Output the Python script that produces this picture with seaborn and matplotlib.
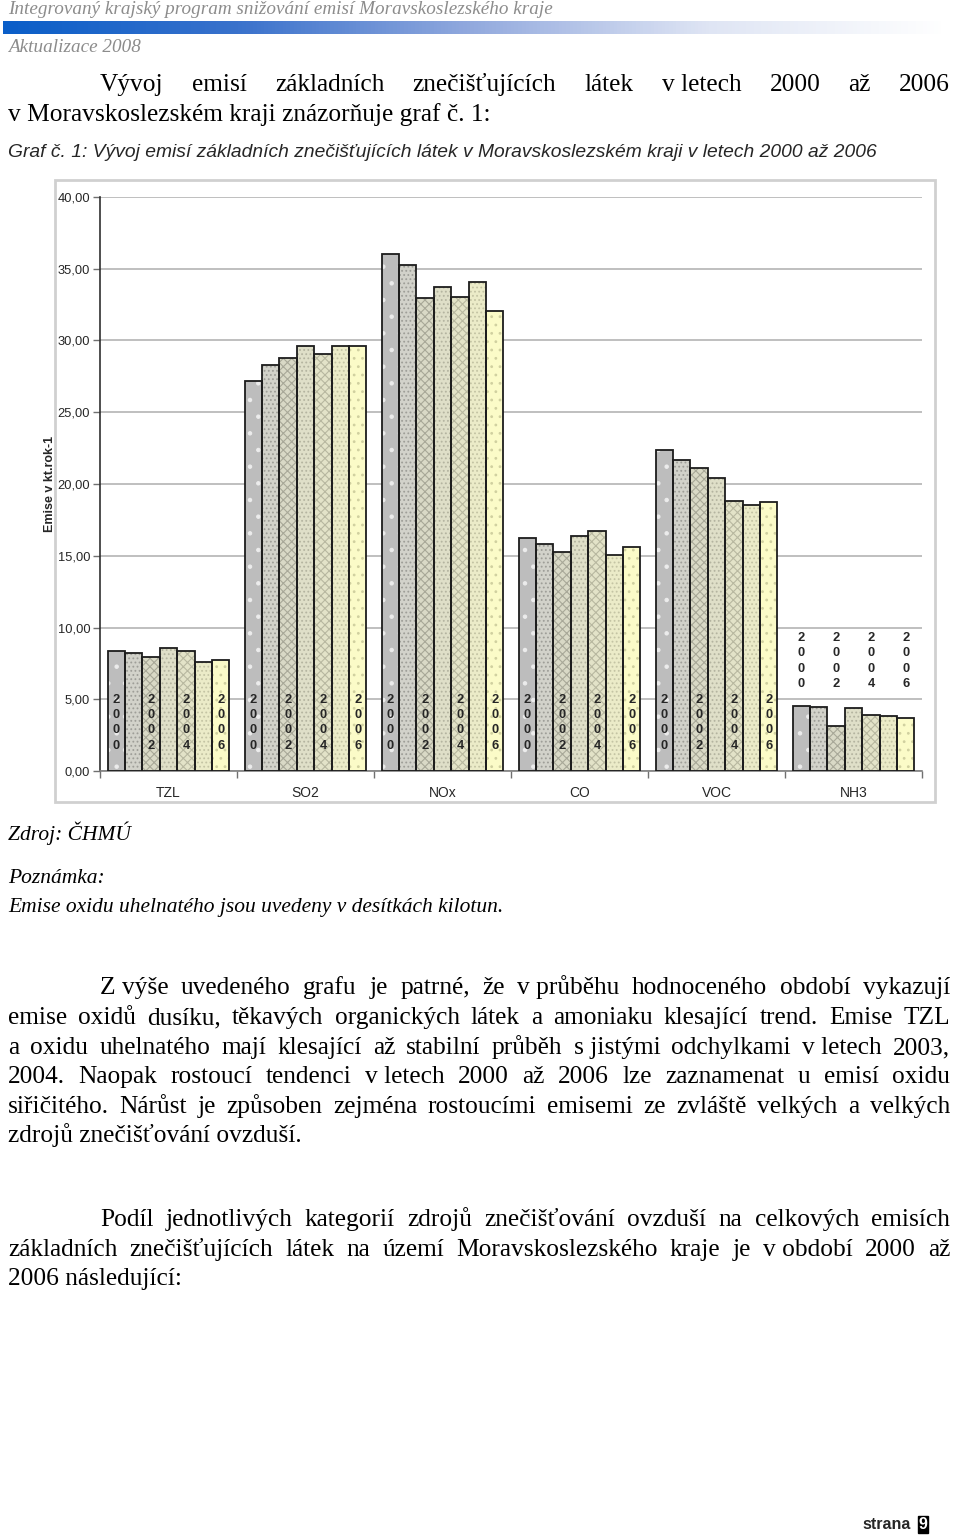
import numpy as np
import pandas as pd
import matplotlib
matplotlib.use('Agg')
import matplotlib.pyplot as plt
from matplotlib.patches import Rectangle
from matplotlib.colors import LinearSegmentedColormap
from matplotlib.ticker import FuncFormatter, MultipleLocator, FixedLocator
import seaborn as sns

latky = ['TZL', 'SO2', 'NOx', 'CO', 'VOC', 'NH3']
roky = ['2000', '2001', '2002', '2003', '2004', '2005', '2006']
tzl = [8.38, 8.20, 7.97, 8.56, 8.38, 7.57, 7.71]
so2 = [27.18, 28.29, 28.80, 29.62, 29.04, 29.62, 29.62]
nox = [36.00, 35.24, 32.96, 33.75, 33.01, 34.08, 32.08]
co = [16.26, 15.80, 15.24, 16.40, 16.72, 15.07, 15.59]
voc = [22.39, 21.65, 21.14, 20.44, 18.84, 18.56, 18.75]
nh3 = [4.55, 4.46, 3.14, 4.37, 3.92, 3.83, 3.67]
popisky = ['2000', '2002', '2004', '2006']

barvy = ['#bdbdbd', '#d2d2ca', '#d9d9c6', '#dfdfc8', '#e3e3c8', '#ebebc8', '#fbfbc8']
hatch_barvy = ['#ececec', '#9e9e98', '#a8a898', '#b4b4a0', '#b8b8a0', '#c4c4a4', '#d0d0a0']
srafy = ['.', '....', 'xxxx', '....', 'xxxx', '....', '..']

odst1 = [
    ['Z výše', 'uvedeného', 'grafu', 'je', 'patrné,', 'že', 'v průběhu', 'hodnoceného', 'období', 'vykazují'],
    ['emise', 'oxidů', 'dusíku,', 'těkavých', 'organických', 'látek', 'a', 'amoniaku', 'klesající', 'trend.', 'Emise', 'TZL'],
    ['a', 'oxidu', 'uhelnatého', 'mají', 'klesající', 'až', 'stabilní', 'průběh', 's jistými', 'odchylkami', 'v letech', '2003,'],
    ['2004.', 'Naopak', 'rostoucí', 'tendenci', 'v letech', '2000', 'až', '2006', 'lze', 'zaznamenat', 'u', 'emisí', 'oxidu'],
    ['siřičitého.', 'Nárůst', 'je', 'způsoben', 'zejména', 'rostoucími', 'emisemi', 'ze', 'zvláště', 'velkých', 'a', 'velkých'],
]
odst1_konec = 'zdrojů znečišťování ovzduší.'
odst2 = [
    ['Podíl', 'jednotlivých', 'kategorií', 'zdrojů', 'znečišťování', 'ovzduší', 'na', 'celkových', 'emisích'],
    ['základních', 'znečišťujících', 'látek', 'na', 'území', 'Moravskoslezského', 'kraje', 'je', 'v období', '2000', 'až'],
]
odst2_konec = '2006 následující:'

sns.set_theme(style='white')
plt.rcParams['font.family'] = ['Liberation Sans', 'DejaVu Sans']
plt.rcParams['hatch.linewidth'] = 0.8

fig = plt.figure(figsize=(9.6, 15.36), dpi=100)
fig.patch.set_facecolor('white')

# page in pixel coordinates
page = fig.add_axes([0, 0, 1, 1], zorder=0)
page.axis('off')
renderer = fig.canvas.get_renderer()

serif = dict(family=['Liberation Serif', 'DejaVu Serif'], color='black')
fs = 18.3     # upright body text
fs_it = 15.5  # italic body text


def justify(words, y, x0, x1, size):
    texts = [page.text(0, y, w, fontsize=size, va='baseline', **serif) for w in words]
    widths = [t.get_window_extent(renderer).width for t in texts]
    gap = (x1 - x0 - sum(widths)) / (len(words) - 1)
    x = x0
    for t, w in zip(texts, widths):
        t.set_x(x)
        x += w + gap


# header
grad = LinearSegmentedColormap.from_list('hl', ['#0a5ec8', '#3a72cc', '#93aade', '#dfe5f4', '#ffffff'])
page.imshow(np.linspace(0, 1, 256)[None, :], extent=[3, 945, 34, 21], aspect='auto', cmap=grad)
page.set_xlim(0, 960)
page.set_ylim(1536, 0)
page.text(8, 14, 'Integrovaný krajský program snižování emisí Moravskoslezského kraje',
          fontsize=13.8, style='italic', va='baseline', family=['Liberation Serif'], color='#8c8c8c')
page.text(8, 52, 'Aktualizace 2008', fontsize=13.8, style='italic', va='baseline',
          family=['Liberation Serif'], color='#8c8c8c')

justify(['Vývoj', 'emisí', 'základních', 'znečišťujících', 'látek', 'v letech', '2000', 'až', '2006'], 91, 100, 950, fs)
page.text(8, 121, 'v Moravskoslezském kraji znázorňuje graf č. 1:', fontsize=fs, va='baseline', **serif)

page.text(8, 157, 'Graf č. 1: Vývoj emisí základních znečišťujících látek v Moravskoslezském kraji v letech 2000 až 2006',
          fontsize=13.9, style='italic', va='baseline')

page.add_patch(Rectangle((55, 180), 880, 622, fill=False, ec='#d0d0d0', lw=2))

page.text(8, 840, 'Zdroj: ČHMÚ', fontsize=fs_it, style='italic', va='baseline', **serif)
page.text(8, 883, 'Poznámka:', fontsize=fs_it, style='italic', va='baseline', **serif)
page.text(8, 912, 'Emise oxidu uhelnatého jsou uvedeny v desítkách kilotun.', fontsize=fs_it,
          style='italic', va='baseline', **serif)

for i, (words, y) in enumerate(zip(odst1, [994, 1024, 1054, 1083, 1113])):
    justify(words, y, 100 if i == 0 else 8, 950, fs)
page.text(8, 1142, odst1_konec, fontsize=fs, va='baseline', **serif)
for i, (words, y) in enumerate(zip(odst2, [1226, 1256])):
    justify(words, y, 100 if i == 0 else 8, 950, fs)
page.text(8, 1285, odst2_konec, fontsize=fs, va='baseline', **serif)

page.text(862, 1529, 'strana', fontsize=11.5, fontweight='bold', va='baseline')
page.text(923, 1529, '9', fontsize=11.5, fontweight='bold', va='baseline', ha='center', color='white',
          bbox=dict(boxstyle='square,pad=0.05', fc='black', ec='black'))

# chart
df = pd.DataFrame({
    'latka': np.repeat(latky, len(roky)),
    'rok': roky * len(latky),
    'emise': tzl + so2 + nox + co + voc + nh3,
})

ax = fig.add_axes([100 / 960, 1 - 771 / 1536, 822 / 960, 574 / 1536], zorder=1)
ax.patch.set_alpha(0)
sns.barplot(data=df, x='latka', y='emise', hue='rok', order=latky, hue_order=roky,
            palette=barvy, saturation=1, width=0.89, errorbar=None, legend=False,
            linewidth=0, ax=ax, zorder=2)

for cont, hc, h in zip(ax.containers, hatch_barvy, srafy):
    for p in cont:
        p.set_hatch(h)
        p.set_edgecolor(hc)
        p.set_linewidth(0)
        ax.add_patch(Rectangle(p.get_xy(), p.get_width(), p.get_height(), fill=False,
                               ec='#1c1c1c', lw=1.3, zorder=3))

for rok, cont in zip(roky, ax.containers):
    if rok not in popisky:
        continue
    for latka, p in zip(latky, cont):
        ytop = 9.68 if latka == 'NH3' else 5.38
        ax.text(p.get_x() + p.get_width() / 2, ytop, '\n'.join(rok), ha='center', va='top',
                fontsize=9.3, fontweight='bold', linespacing=1.36, zorder=4)

ax.set_xlim(-0.5, len(latky) - 0.5)
ax.set_ylim(0, 40)
ax.yaxis.set_major_locator(MultipleLocator(5))
ax.yaxis.set_major_formatter(FuncFormatter(lambda v, pos: f'{v:.2f}'.replace('.', ',')))
ax.grid(axis='y', color='#b4b4b4', lw=1.2)
ax.set_axisbelow(True)
ax.set_xticks(range(len(latky)))
ax.set_xticklabels(latky)
ax.xaxis.set_minor_locator(FixedLocator(np.arange(-0.5, len(latky), 1)))
ax.tick_params(axis='x', which='major', length=0, pad=11, labelsize=10)
ax.tick_params(axis='x', which='minor', length=5, width=1, direction='out', color='#707070', bottom=True)
ax.tick_params(axis='y', length=5, width=1, direction='out', color='#707070', left=True, labelsize=9.3, pad=2)
ax.set_xlabel('')
ax.set_ylabel('Emise v kt.rok-1', fontsize=9, fontweight='bold', labelpad=1)
for s in ['top', 'right']:
    ax.spines[s].set_visible(False)
ax.spines['left'].set_color('#303030')
ax.spines['left'].set_linewidth(1.2)
ax.spines['bottom'].set_color('#808080')
ax.spines['bottom'].set_linewidth(1.2)

fig.savefig('out.png', dpi=100, facecolor='white')
